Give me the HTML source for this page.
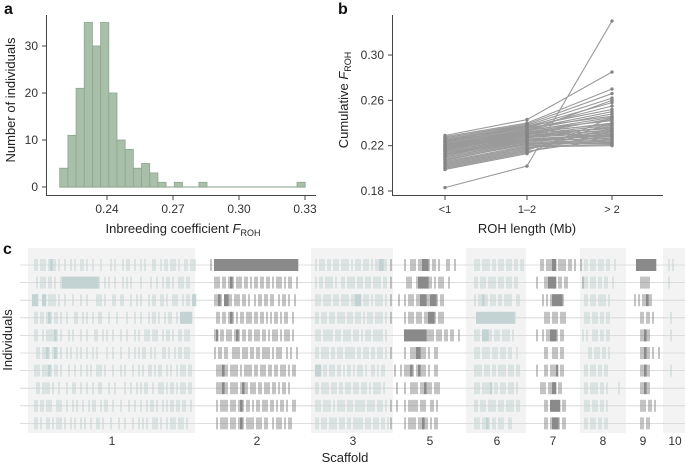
<!DOCTYPE html>
<html><head><meta charset="utf-8"><style>
html,body{margin:0;padding:0;background:#fff;}
svg{display:block;font-family:"Liberation Sans",sans-serif;}
</style></head><body>
<svg id="fig" width="685" height="465" viewBox="0 0 685 465" xmlns="http://www.w3.org/2000/svg">
<g id="pa"></g>
<g id="pb"></g>
<g id="pc"></g>
</svg>
<script>
// ---------- Panel a data ----------
const histBinStart = 0.2185;
const histBinWidth = 0.00372;
const histCounts = [4,11,21,35,30,35,20,10,8,4,5,3,1,0,1,0,0,1,0,0,0,0,0,0,0,0,0,0,0,1];
const histYTicks = [0,10,20,30];
const histXTicks = [0.24,0.27,0.30,0.33];

// ---------- Panel b data ----------
const rohCats = ["<1","1\u20132","> 2"];
const frohLt1 = [0.229,0.228,0.227,0.227,0.226,0.225,0.225,0.224,0.223,0.223,0.222,0.221,0.221,0.220,0.219,0.219,0.218,0.217,0.217,0.216,0.215,0.215,0.214,0.213,0.212,0.212,0.211,0.210,0.209,0.208,0.207,0.206,0.205,0.204,0.203,0.202,0.201,0.200,0.199,0.183,0.220,0.216,0.213,0.210,0.224,0.218];
const froh12 = [0.243,0.240,0.239,0.238,0.237,0.236,0.237,0.235,0.234,0.236,0.233,0.232,0.234,0.231,0.232,0.230,0.229,0.231,0.228,0.229,0.227,0.228,0.226,0.225,0.226,0.224,0.225,0.223,0.222,0.221,0.222,0.220,0.219,0.218,0.217,0.216,0.215,0.214,0.213,0.202,0.233,0.230,0.227,0.224,0.238,0.231];
const frohGt2 = [0.285,0.270,0.266,0.262,0.258,0.255,0.252,0.250,0.248,0.246,0.245,0.243,0.242,0.240,0.239,0.238,0.236,0.235,0.234,0.233,0.232,0.231,0.230,0.229,0.228,0.227,0.226,0.225,0.224,0.223,0.222,0.221,0.220,0.229,0.235,0.240,0.226,0.233,0.245,0.330,0.260,0.244,0.237,0.230,0.222,0.228];
const frohYTicks = [0.18,0.22,0.26,0.30];

// ---------- Panel c data ----------
const scaffoldLabels = ["1","2","3","5","6","7","8","9","10"];
const scaffoldShaded = [true,false,true,false,true,false,true,false,true];
const rohStrings = [
[
"  || ||| |#|| |  |  | |  || |  |   |    | |   | ||  |  | |   ||  | || ||| |  || |||",
"   | ||| || |  |##################|  | |  |   | | |    |    |  |  | || |  ||| ||  ",
" ###  ## |||| |  |   |   |  |    ||| |   ||  ||   |  | |   | ||  || |  |||  | || ##",
"  || || |#| || |  |   ||  | |  |  ||   |   |    |   |  |   | || |  | ||  | ###### ",
"  ||  | ||||#| |   | |   |  |   ||  | |  |   |  |   | |  ||| |||  | || |  || |||  ",
"   || ||#| |#| |  | |  | |  |  | |    |  |   |   |  | | ||  | |   || |  | || |||  ",
"  ||| |||#| || |   |  |  |  | |  ||| |   |   | |   |  | |  || | ||  | |  | ||| || ",
"   || |||| |  |   |  ||  |  |  |  ||   |  |    |  |  | | ||  |  ||| | || | ||| || ",
"  || || |||  |||  |  | |  |  | ||  | ||  |   |   |  |  |  | || |  | | || || ||  | ",
"  || |  || | ||| |  | |  | |  |  || |   |   |  |   |  | | |  ||| |  | ||| ||| |  "],
[
"| ##########################################  ",
"  ||| || |#| ||| || | || || || | ||| | ||  |  ",
"  ||#| ##|| ||| || |  | || || ||  | || |  |   ",
"   || || |#| | || ||| || || | | || | ||  |    ",
"  |# || ||| |#| || || ||| || | ||| | ||| |    ",
"  | || ||  |||| ||| || || |||| | |||  | |  |  ",
"   |||#|| |||| | |||| || ||| || || ||| | ||   ",
"   |||#|| |||| |#|| ||| || ||| || | || |      ",
"   | |||| ||| |#| || | || ||| || | || |  ||   ",
"   | |||| ||| |#| |||| ||| ||  | ||| | ||     "],
[
" | ||| || ||| |||| | ||| ||| | ||##|| ",
" | || |||| |  || |||| ||| ||| |||| || ",
" ||| |||| ||| |||| ||### ||| | |||| | ",
" || ||| ||| |||| ||| ||| | ||| |||| | ",
" ||| ||||| ||| |||| ||| | ||| ||||| | ",
" || |||| || ||| ||||| || ||| || ||| | ",
" ### || ||| || | || | ||| |  || | ||  ",
" || |||| ||| || ||| ||| ||| | |||| |  ",
" ||| |||| | |||| ||| ||||| |||| ||| | ",
" || ||| |||| ||| || ||||| ||| ||| || |"],
[
"|      |  ||| ||###| || |   ||  |     ",
"|       |||  |#####|| | |||  |        ",
"|   |  | ||| ||###||###| ||           ",
"|      | ||| ||| ||###| |||           ",
"       ###########|||| ||| || ||  |   ",
"|      |  |||##||| |  ||              ",
"  |  | |||#| |#||| |  ||              ",
"   |   |  |||| ||#||| |||             ",
"|  |   | ||||| |||  || |              ",
"|      | |||| ||#|| | ||              "],
[
"   ||| |||| || ||| ||| || ||  ",
"   || ||| |||| ||| ||| ||     ",
"   | ||#|| ||| || ||||  ||    ",
"    ###################|      ",
"   ||| ###|| ||| |||| |       ",
"   ||| |||| ||| ||| ||  |     ",
"   |||| ||| || |||| ||| ||    ",
"   ||| ||||# || ||| ||| |     ",
"   || ||| |||| ||| |||| ||    ",
"   ||| ||#| || |||  ||        "],
[
"    || |||## |||| || |  | ",
"  |   ||#### || ||       |",
"     | | |#####|          ",
"      ||| ||| |||         ",
"  |  | ||###| ||          ",
"      ||  ||| ||          ",
"  |   || |||# ||          ",
"    ||| ||## ||           ",
"      || ##### ||         ",
"      || |###| ||         "],
[
" || ||| ||| ||  |  ",
" || ||| || ||  |   ",
" || ||| |||| |     ",
" ||| ||| || ||     ",
"| |  ||| || ||     ",
"   || ||| || |     ",
" || ||| || ||      ",
" || |||| || |     |",
" ||| ||| || |      ",
" || ||| || ||      "],
[
"   ##########    ",
"     |||||       ",
"  | | ||#||      ",
"     || || |     ",
"     ||#||       ",
"     ||#|| |  |  ",
"     ||#||       ",
"     ||#||       ",
"     ||| || |    ",
"     || ||       "],
[
"  | |     ",
"  |       ",
"          ",
"   |      ",
"   |      ",
"          ",
"   |      ",
"          ",
"          ",
"          "]
];

// ---------- helpers ----------
const NS="http://www.w3.org/2000/svg";
function mk(parent,tag,attrs,text){const e=document.createElementNS(NS,tag);for(const k in attrs)e.setAttribute(k,attrs[k]);if(text!==undefined)e.textContent=text;parent.appendChild(e);return e;}

// ---------- Panel a ----------
(function(){
const g=document.getElementById('pa');
const xS=v=>107+(v-0.24)*2200;
const yS=v=>187-v*4.7;
let t=mk(g,'text',{x:4,y:14,'font-size':16,'font-weight':'bold',fill:'#111'},'a');

let ax=mk(g,'path',{d:'M46.5,15 V195.5 H316',stroke:'#444',fill:'none','stroke-width':1});

let base=mk(g,'line',{x1:xS(histBinStart),x2:xS(histBinStart+histBinWidth*histCounts.length),y1:yS(0),y2:yS(0),stroke:'#9fb59f','stroke-width':1.2});

histCounts.forEach((c,i)=>{
 if(c<=0)return;
 const x0=xS(histBinStart+i*histBinWidth),x1=xS(histBinStart+(i+1)*histBinWidth);
 const r=mk(g,'rect',{x:x0,y:yS(c),width:x1-x0,height:yS(0)-yS(c),fill:'#a9bfa9',stroke:'#8da68d','stroke-width':0.8});
 
 
});
histYTicks.forEach(v=>{
 mk(g,'line',{x1:42,x2:46.5,y1:yS(v),y2:yS(v),stroke:'#444'});
 const tx=mk(g,'text',{x:38,y:yS(v)+4,'font-size':12,'text-anchor':'end',fill:'#333'},String(v));
 
 
});
histXTicks.forEach(v=>{
 mk(g,'line',{x1:xS(v),x2:xS(v),y1:195.5,y2:200,stroke:'#444'});
 const tx=mk(g,'text',{x:xS(v),y:213,'font-size':12,'text-anchor':'middle',fill:'#333'},v.toFixed(2));
 
 
});
let xl=mk(g,'text',{x:183,y:233,'font-size':13,'text-anchor':'middle',fill:'#222'});
xl.innerHTML='Inbreeding coefficient <tspan font-style="italic">F</tspan><tspan font-size="9" dy="3">ROH</tspan>';

let yl=mk(g,'text',{x:0,y:0,'font-size':13,'text-anchor':'middle',fill:'#222',transform:'translate(15,100) rotate(-90)'},'Number of individuals');

})();

// ---------- Panel b ----------
(function(){
const g=document.getElementById('pb');
const catX=[445,527,612];
const yS=v=>191-(v-0.18)*1133;
let t=mk(g,'text',{x:338,y:14,'font-size':16,'font-weight':'bold',fill:'#111'},'b');

let ax=mk(g,'path',{d:'M392.5,15 V195.5 H663',stroke:'#444',fill:'none'});

frohLt1.forEach((v,i)=>{
 const pl=mk(g,'polyline',{points:`${catX[0]},${yS(v)} ${catX[1]},${yS(froh12[i])} ${catX[2]},${yS(frohGt2[i])}`,fill:'none',stroke:'#9a9a9a','stroke-width':1.1});
 
 
});
[frohLt1,froh12,frohGt2].forEach((arr,ci)=>{
 arr.forEach(v=>{
  const c=mk(g,'circle',{cx:catX[ci],cy:yS(v),r:1.7,fill:'#858585'});
  
  
 });
});
frohYTicks.forEach(v=>{
 mk(g,'line',{x1:388,x2:392.5,y1:yS(v),y2:yS(v),stroke:'#444'});
 const tx=mk(g,'text',{x:384,y:yS(v)+4,'font-size':12,'text-anchor':'end',fill:'#333'},v.toFixed(2));
 
 
});
rohCats.forEach((c,i)=>{
 mk(g,'line',{x1:catX[i],x2:catX[i],y1:195.5,y2:200,stroke:'#444'});
 const tx=mk(g,'text',{x:catX[i],y:213,'font-size':11,'text-anchor':'middle',fill:'#333'},c);
 
 
});
let xl=mk(g,'text',{x:527,y:233,'font-size':13,'text-anchor':'middle',fill:'#222'},'ROH length (Mb)');

let yl=mk(g,'text',{x:0,y:0,'font-size':13,'text-anchor':'middle',fill:'#222',transform:'translate(348,100) rotate(-90)'});
yl.innerHTML='Cumulative <tspan font-style="italic">F</tspan><tspan font-size="9" dy="3">ROH</tspan>';

})();

// ---------- Panel c ----------
(function(){
const g=document.getElementById('pc');
const startPx=[30,210,313,390,468,532,582,630,664];
const bandPx=[[28,195],null,[311,393],null,[466,526],null,[580,626],null,[663,685]];
const labelX=[112,257,353,430,497,553,603,643,675];
const rowY=i=>265+i*17.6;
const cell=2;
let t=mk(g,'text',{x:3,y:254,'font-size':16,'font-weight':'bold',fill:'#111'},'c');

bandPx.forEach((b,i)=>{
 if(!b||!scaffoldShaded[i])return;
 const r=mk(g,'rect',{x:b[0],y:248,width:b[1]-b[0],height:185,fill:'#f3f3f3'});
 
 
});
for(let i=0;i<10;i++){
 const l=mk(g,'line',{x1:20,x2:685,y1:rowY(i),y2:rowY(i),stroke:'#d4d4d4','stroke-width':0.8});
 
 
}
rohStrings.forEach((rows,si)=>{
 const col=scaffoldShaded[si]?'#c3d2d2':'#8a8a8a';
 rows.forEach((s,ri)=>{
  for(let k=0;k<s.length;k++){
   const ch=s[k];if(ch===' ')continue;
   const x=startPx[si]+k*cell;
   const r=mk(g,'rect',{x:ch==='#'?x:x+0.5,y:rowY(ri)-6,width:ch==='#'?cell+0.3:1.0,height:12,fill:col});
   
   
  }
 });
});
scaffoldLabels.forEach((s,i)=>{
 const tx=mk(g,'text',{x:labelX[i],y:445,'font-size':12,'text-anchor':'middle',fill:'#333'},s);
 
 
});
let xl=mk(g,'text',{x:345,y:462,'font-size':13,'text-anchor':'middle',fill:'#222'},'Scaffold');

let yl=mk(g,'text',{x:0,y:0,'font-size':13,'text-anchor':'middle',fill:'#222',transform:'translate(12,340) rotate(-90)'},'Individuals');

})();
</script>
</body></html>
